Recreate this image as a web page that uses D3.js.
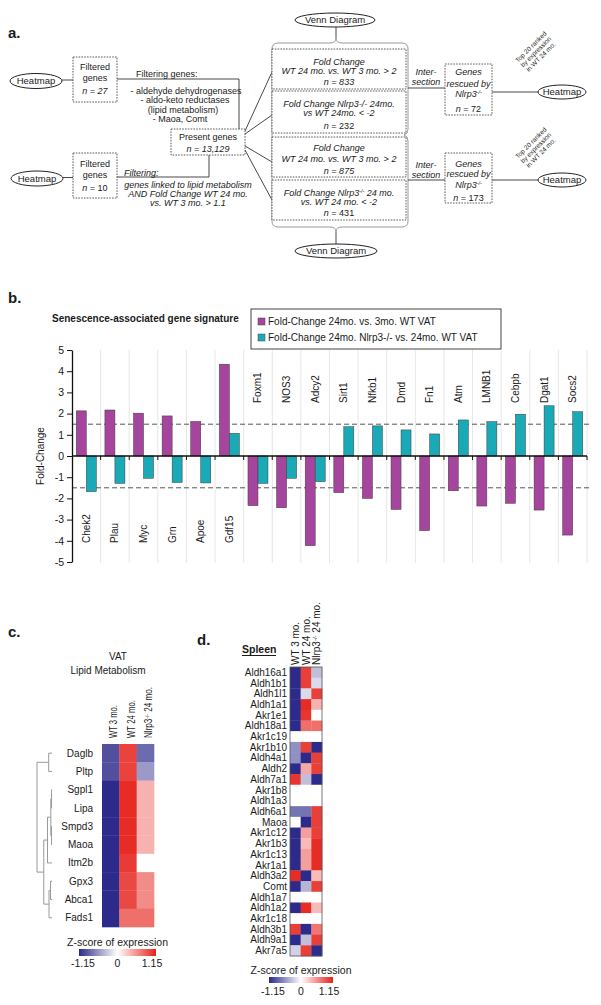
<!DOCTYPE html>
<html><head><meta charset="utf-8">
<script src="https://cdn.jsdelivr.net/npm/d3@7"></script>
<style>body{margin:0;background:#fff} text{font-family:"Liberation Sans",Arial,sans-serif;fill:#1a1a1a}</style>
</head><body><svg id="c" width="601" height="1005"></svg>
<script>
// ---------- Panel b data ----------
const genes = ["Chek2","Plau","Myc","Grn","Apoe","Gdf15","Foxm1","NOS3","Adcy2","Sirt1","Nfkb1","Dmd","Fn1","Atm","LMNB1","Cebpb","Dgat1","Socs2"];
const fcAge = [2.13,2.17,2.02,1.89,1.63,4.33,-2.34,-2.44,-4.23,-1.73,-2.0,-2.52,-3.52,-1.64,-2.36,-2.23,-2.55,-3.73];
const fcNlrp3 = [-1.68,-1.29,-1.05,-1.25,-1.27,1.07,-1.29,-1.05,-1.21,1.38,1.42,1.23,1.04,1.70,1.62,1.97,2.37,2.09];
const yTicks = [5,4,3,2,1,0,-1,-2,-3,-4,-5];
const seriesNames = ["Fold-Change 24mo. vs. 3mo. WT VAT","Fold-Change 24mo. Nlrp3-/- vs. 24mo. WT VAT"];
const seriesColors = ["#a6459d","#1aa9b6"];
const thresholds = [1.5,-1.5];

// ---------- Panel c data ----------
const vatGenes = ["Daglb","Pltp","Sgpl1","Lipa","Smpd3","Maoa","Itm2b","Gpx3","Abca1","Fads1"];
const vatConds = ["WT 3 mo.","WT 24 mo.","Nlrp3-/- 24 mo."];
const vatWT3  = [-0.95,-0.95,-1.15,-1.15,-1.15,-1.15,-1.15,-1.15,-1.15,-1.15];
const vatWT24 = [0.98,0.98,1.1,1.1,1.1,1.1,1.02,0.95,0.95,0.75];
const vatKO   = [-0.8,-0.55,0.4,0.4,0.4,0.4,0.0,0.6,0.6,0.75];
const vatTree = {h:1,children:[
  {h:0.22,children:[{name:"Daglb"},{name:"Pltp"}]},
  {h:0.55,children:[
    {h:0.3,children:[
      {h:0.08,children:[{h:0.03,children:[{name:"Sgpl1"},{name:"Lipa"}]},{h:0.03,children:[{name:"Smpd3"},{name:"Maoa"}]}]},
      {name:"Itm2b"}]},
    {h:0.2,children:[{h:0.1,children:[{name:"Gpx3"},{name:"Abca1"}]},{name:"Fads1"}]}
  ]}
]};

// ---------- Panel d data ----------
const spleenGenes = ["Aldh16a1","Aldh1b1","Aldh1l1","Aldh1a1","Akr1e1","Aldh18a1","Akr1c19","Akr1b10","Aldh4a1","Aldh2","Aldh7a1","Akr1b8","Aldh1a3","Aldh6a1","Maoa","Akr1c12","Akr1b3","Akr1c13","Akr1a1","Aldh3a2","Comt","Aldh1a7","Aldh1a2","Akr1c18","Aldh3b1","Aldh9a1","Akr7a5"];
const spleenConds = ["WT 3 mo.","WT 24 mo.","Nlrp3-/- 24 mo."];
const spWT3  = [-1.15,-1.15,-1.15,-1.15,-1.15,-1.15,0,-0.6,-0.6,-1.15,1.05,0,0,-0.75,0,-1.15,-1.15,-1.15,-1.15,1.1,-1.15,0,-1.15,0,1.0,-1.15,-0.25];
const spWT24 = [1.0,1.0,-0.2,1.1,1.05,0.75,0,1.0,-1.15,0.45,-0.35,0,0,-0.75,-1.15,0.5,0.35,0.5,0.5,-1.15,-0.4,0,1.1,0,-1.15,-0.35,1.0];
const spKO   = [-0.35,-0.2,1.0,0.4,0,0.75,0,-1.15,1.0,1.0,-1.15,0,0,1.0,1.0,1.0,1.1,1.1,1.1,0.35,1.0,0,0.35,0,0.7,1.0,-1.15];
const zRange = [-1.15,0,1.15];
const zColors = ["#2c2a8a","#ffffff","#e6221b"];

// ---------- helpers ----------
const svg = d3.select("#c");
function T(g,x,y,s,o={}){
  const t=g.append("text").attr("x",x).attr("y",y).text(s)
   .attr("font-size",o.size||10).attr("text-anchor",o.anchor||"middle");
  if(o.italic) t.attr("font-style","italic");
  if(o.bold) t.attr("font-weight","bold");
  if(o.transform) t.attr("transform",o.transform);
  return t;
}
function TS(g,x,y,segs,o={}){
  const t=g.append("text").attr("x",x).attr("y",y).attr("font-size",o.size||10).attr("text-anchor",o.anchor||"middle");
  if(o.transform) t.attr("transform",o.transform);
  segs.forEach(([s,f])=>{
    const sp=t.append("tspan").text(s);
    if(f&&f.includes("i")) sp.attr("font-style","italic");
    if(f&&f.includes("s")) sp.attr("font-size",(o.size||10)*0.6).attr("baseline-shift","super");
  });
  return t;
}
const color = d3.scaleLinear().domain(zRange).range(zColors).clamp(true);

// ================= Panel a =================
const A = svg.append("g");
const FS = 9;
const ta=(x,y,s,o={})=>T(A,x,y,s,Object.assign({size:FS},o));
const tsa=(x,y,segs,o={})=>TS(A,x,y,segs,Object.assign({size:FS},o));
const ln = pts=>A.append("path").attr("d",d3.line()(pts)).attr("fill","none").attr("stroke","#333").attr("stroke-width",0.9);
const dbox=(x0,y0,x1,y1)=>A.append("rect").attr("x",x0).attr("y",y0).attr("width",x1-x0).attr("height",y1-y0)
  .attr("fill","#fff").attr("stroke","#333").attr("stroke-width",0.8).attr("stroke-dasharray","1.6,1.2");
const ell=(cx,cy,rx,ry,s)=>{A.append("ellipse").attr("cx",cx).attr("cy",cy).attr("rx",rx).attr("ry",ry)
  .attr("fill","#fff").attr("stroke","#222").attr("stroke-width",1);ta(cx,cy+3.3,s,{size:9.5});};

T(A,8,38,"a.",{size:15,bold:true,anchor:"start"});
ln([[62,80],[73,80]]); ln([[63,177.5],[73,177.5]]);
ell(36,81,26,7.5,"Heatmap"); ell(37,178.5,26,7.5,"Heatmap");
ln([[117,79],[239,79],[239,129]]);
ln([[117,177],[209,177],[209,155]]);
dbox(73,57,117,102);
ta(95,70,"Filtered"); ta(95,81,"genes"); tsa(95,94,[["n","i"],[" = 27","i"]]);
dbox(73,153,117,198);
ta(95,167,"Filtered"); ta(95,178,"genes"); tsa(95,191,[["n","i"],[" = 10",""]]);
ta(136,77,"Filtering genes:",{anchor:"start"});
ta(186,94,"- aldehyde dehydrogenases"); ta(185,103.3,"- aldo-keto reductases");
ta(183,112.6,"(lipid metabolism)"); ta(180,122,"- Maoa, Comt");
ta(124,175.5,"Filtering:",{anchor:"start",italic:true});
ta(188,188,"genes linked to lipid metabolism",{italic:true});
ta(188,196.8,"AND Fold Change WT 24 mo.",{italic:true});
ta(188,205.6,"vs. WT 3 mo. > 1.1",{italic:true});
ln([[245,131],[272,72]]); ln([[245,134],[272,115]]); ln([[245,146],[272,162]]); ln([[245,150],[272,200]]);
dbox(171,129,245,155);
ta(208,140,"Present genes"); ta(208,152,"n = 13,129",{italic:true});
A.append("path").attr("fill","none").attr("stroke","#999").attr("stroke-width",1)
 .attr("d","M278,43 L330,43 Q336,43 336,38 Q336,43 342,43 L402,43 Q408,43 408,49 L408,129 Q408,134 404,135 Q408,136 408,141 L408,221 Q408,227 402,227 L342,227 Q336,227 336,232 Q336,227 330,227 L278,227 Q272,227 272,221 L272,49 Q272,43 278,43 Z");
ln([[336,27],[336,38]]); ln([[336,232],[336,244]]);
ell(335,20,40,7,"Venn Diagram"); ell(336,251,41,7,"Venn Diagram");
dbox(272,49,406,89); dbox(272,91,406,133); dbox(272,137,406,177); dbox(272,180,406,220);
ta(339,64.5,"Fold Change",{italic:true}); ta(339,74,"WT 24 mo. vs. WT 3 mo. > 2",{italic:true}); ta(339,85,"n = 833",{italic:true});
ta(339,106.5,"Fold Change Nlrp3-/- 24mo.",{italic:true}); ta(339,115.5,"vs WT 24mo. < -2",{italic:true}); tsa(339,128.5,[["n","i"],[" = 232",""]]);
ta(339,151,"Fold Change",{italic:true}); ta(339,162,"WT 24 mo. vs. WT 3 mo. > 2",{italic:true}); ta(339,173.5,"n = 875",{italic:true});
tsa(339,195.5,[["Fold Change Nlrp3","i"],["-/-","is"],[" 24 mo.","i"]]); ta(339,205,"vs. WT 24 mo. < -2",{italic:true}); tsa(339,215.5,[["n","i"],[" = 431",""]]);
ln([[408,88],[445,88]]); ln([[408,180],[445,180]]);
ta(426,74.5,"Inter-",{italic:true}); ta(426,85,"section",{italic:true});
ta(426,168,"Inter-",{italic:true}); ta(426,177.5,"section",{italic:true});
dbox(445,64,492,115); dbox(445,153,492,203);
ta(468.5,75,"Genes",{italic:true}); ta(468.5,87,"rescued by",{italic:true}); tsa(468.5,97,[["Nlrp3","i"],["-/-","is"]]); tsa(468.5,112,[["n","i"],[" = 72",""]]);
ta(468.5,167,"Genes",{italic:true}); ta(468.5,177,"rescued by",{italic:true}); tsa(468.5,188,[["Nlrp3","i"],["-/-","is"]]); tsa(468.5,200.5,[["n","i"],[" = 173",""]]);
ln([[492,92],[538,92]]); ln([[492,180],[538,180]]);
ell(562,92,24,7,"Heatmap"); ell(562,180,24,7,"Heatmap");
[[536,52],[536,148]].forEach(([cx,cy])=>{
  const g=A.append("g").attr("transform",`translate(${cx},${cy}) rotate(-45)`);
  T(g,0,-5,"Top 20 ranked",{size:6.5}); T(g,0,2,"by expression",{size:6.5}); T(g,0,9,"in WT 24 mo.",{size:6.5});
});

// ================= Panel b =================
const B = svg.append("g");
T(B,8,303,"b.",{size:15,bold:true,anchor:"start"});
T(B,52,322,"Senescence-associated gene signature",{size:10,bold:true,anchor:"start"});
B.append("rect").attr("x",251).attr("y",309).attr("width",250).attr("height",40).attr("fill","#fff").attr("stroke","#444").attr("stroke-width",1);
seriesNames.forEach((s,i)=>{
  B.append("rect").attr("x",258).attr("y",318+i*16).attr("width",7).attr("height",7).attr("fill",seriesColors[i]).attr("stroke","#444").attr("stroke-width",0.5);
  T(B,268,325+i*16,s,{anchor:"start"});
});
const xb = d3.scaleBand().domain(genes).range([72,587]);
const yb = d3.scaleLinear().domain([-5,5]).range([562,350]);
const bw = xb.bandwidth(), barW=10;
B.append("g").selectAll("line").data(genes).join("line")
 .attr("x1",d=>xb(d)+bw).attr("x2",d=>xb(d)+bw).attr("y1",yb(5)).attr("y2",yb(-5)+1)
 .attr("stroke","#e6e6e6").attr("stroke-width",1);
B.append("g").selectAll("line").data(thresholds).join("line")
 .attr("x1",72).attr("x2",592).attr("y1",d=>yb(d)).attr("y2",d=>yb(d))
 .attr("stroke","#555").attr("stroke-width",1).attr("stroke-dasharray","5,3");
[fcAge,fcNlrp3].forEach((vals,si)=>{
  B.append("g").selectAll("rect").data(genes).join("rect")
   .attr("x",(d)=>xb(d)+bw/2-barW+si*barW)
   .attr("y",(d,i)=>yb(Math.max(0,vals[i])))
   .attr("width",barW)
   .attr("height",(d,i)=>Math.abs(yb(vals[i])-yb(0)))
   .attr("fill",seriesColors[si]).attr("stroke","#3a3a3a").attr("stroke-width",0.5);
});
B.append("line").attr("x1",72).attr("x2",587).attr("y1",yb(0)).attr("y2",yb(0)).attr("stroke","#111").attr("stroke-width",1.5);
B.append("g").selectAll("line").data(genes).join("line")
 .attr("x1",d=>xb(d)+bw).attr("x2",d=>xb(d)+bw).attr("y1",yb(0)).attr("y2",yb(0)+4).attr("stroke","#111").attr("stroke-width",1);
const ya = B.append("g").attr("transform","translate(72,0)")
 .call(d3.axisLeft(yb).tickValues(yTicks).tickFormat(d=>String(d)).tickSize(5).tickSizeOuter(0));
ya.select(".domain").attr("stroke","#111").attr("stroke-width",1.3);
ya.selectAll(".tick line").attr("stroke","#111");
ya.selectAll(".tick text").attr("font-size",10.5).attr("font-family",'"Liberation Sans",Arial,sans-serif').attr("fill","#1a1a1a");
T(B,0,0,"Fold-Change",{transform:`translate(44,${yb(0)}) rotate(-90)`});
genes.forEach((g,i)=>{
  const below = fcAge[i]>0;
  const yy = below?543:403, xx = xb(g)+bw/2;
  T(B,xx,yy,g,{anchor:"start",transform:`rotate(-90,${xx},${yy})`}).attr("dy","0.35em");
});

// ================= Panel c =================
const C = svg.append("g");
T(C,8,637,"c.",{size:15,bold:true,anchor:"start"});
T(C,118,660,"VAT"); T(C,108,674,"Lipid Metabolism");
const xc = d3.scaleBand().domain(vatConds).range([102,154]);
const yc = d3.scaleBand().domain(vatGenes).range([744,927]);
[vatWT3,vatWT24,vatKO].forEach((vals,ci)=>{
  C.append("g").selectAll("rect").data(vatGenes).join("rect")
   .attr("x",xc(vatConds[ci])).attr("y",d=>yc(d)).attr("width",xc.bandwidth()+0.3).attr("height",yc.bandwidth()+0.3)
   .attr("fill",(d,i)=>color(vals[i]));
});
vatGenes.forEach(g=>T(C,93,yc(g)+yc.bandwidth()/2+3.5,g,{anchor:"end"}));
const hdrLen=[33,38,51];
vatConds.forEach((c,i)=>{
  const xx=xc(c)+xc.bandwidth()/2+3, yy=738;
  const segs = c.startsWith("Nlrp3")?[["Nlrp3",""],["-/-","s"],[" 24 mo.",""]]:[[c,""]];
  TS(C,xx,yy,segs,{anchor:"start",transform:`rotate(-90,${xx},${yy})`}).attr("dy","0.35em")
   .attr("textLength",hdrLen[i]).attr("lengthAdjust","spacingAndGlyphs");
});
const root = d3.hierarchy(vatTree);
const xh = d3.scaleLinear().domain([0,1]).range([52,37]);
root.eachAfter(n=>{
  if(!n.children){n.yy=yc(n.data.name)+yc.bandwidth()/2;n.hh=0;}
  else {n.yy=d3.mean(n.children,c=>c.yy);n.hh=n.data.h;}
});
root.each(n=>{
  if(!n.children) return;
  const ys=n.children.map(c=>c.yy);
  C.append("line").attr("x1",xh(n.hh)).attr("x2",xh(n.hh)).attr("y1",d3.min(ys)).attr("y2",d3.max(ys)).attr("stroke","#999");
  n.children.forEach(c=>C.append("line").attr("x1",xh(n.hh)).attr("x2",xh(c.hh)).attr("y1",c.yy).attr("y2",c.yy).attr("stroke","#999"));
});
const defs=svg.append("defs");
const grad=defs.append("linearGradient").attr("id","zg");
zColors.forEach((c,i)=>grad.append("stop").attr("offset",(i*50)+"%").attr("stop-color",c));
function colorbar(g,x0,x1,y0,h,tY,lY){
  g.append("rect").attr("x",x0).attr("y",y0).attr("width",x1-x0).attr("height",h).attr("fill","url(#zg)");
  T(g,(x0+x1)/2,tY,"Z-score of expression",{size:10.5});
  const s=d3.scaleLinear().domain([zRange[0],zRange[2]]).range([x0+4,x1-4]);
  zRange.forEach(v=>T(g,s(v),lY,String(v),{size:10.5}));
}
colorbar(C,79,156,949,7,946,967);

// ================= Panel d =================
const D = svg.append("g");
T(D,197,645,"d.",{size:15,bold:true,anchor:"start"});
T(D,242,653,"Spleen",{bold:true,anchor:"start",size:10.5});
D.append("line").attr("x1",242).attr("x2",276).attr("y1",655.5).attr("y2",655.5).attr("stroke","#1a1a1a").attr("stroke-width",1);
const xd = d3.scaleBand().domain(spleenConds).range([290,322]);
const yd = d3.scaleBand().domain(spleenGenes).range([667,956]);
[spWT3,spWT24,spKO].forEach((vals,ci)=>{
  D.append("g").selectAll("rect").data(spleenGenes).join("rect")
   .attr("x",xd(spleenConds[ci])).attr("y",d=>yd(d)).attr("width",xd.bandwidth()+0.3).attr("height",yd.bandwidth()+0.3)
   .attr("fill",(d,i)=>color(vals[i]));
});
D.append("rect").attr("x",290).attr("y",667).attr("width",32).attr("height",289).attr("fill","none").attr("stroke","#555").attr("stroke-width",0.8);
spleenGenes.forEach(g=>T(D,287,yd(g)+yd.bandwidth()/2+3.5,g,{anchor:"end"}));
spleenConds.forEach((c,i)=>{
  const xx=xd(c)+xd.bandwidth()/2, yy=665;
  const segs = c.startsWith("Nlrp3")?[["Nlrp3",""],["-/-","s"],[" 24 mo.",""]]:[[c,""]];
  TS(D,xx,yy,segs,{anchor:"start",transform:`rotate(-90,${xx},${yy})`}).attr("dy","0.35em");
});
colorbar(D,269,333,977,6,974,995);
</script></body></html>
